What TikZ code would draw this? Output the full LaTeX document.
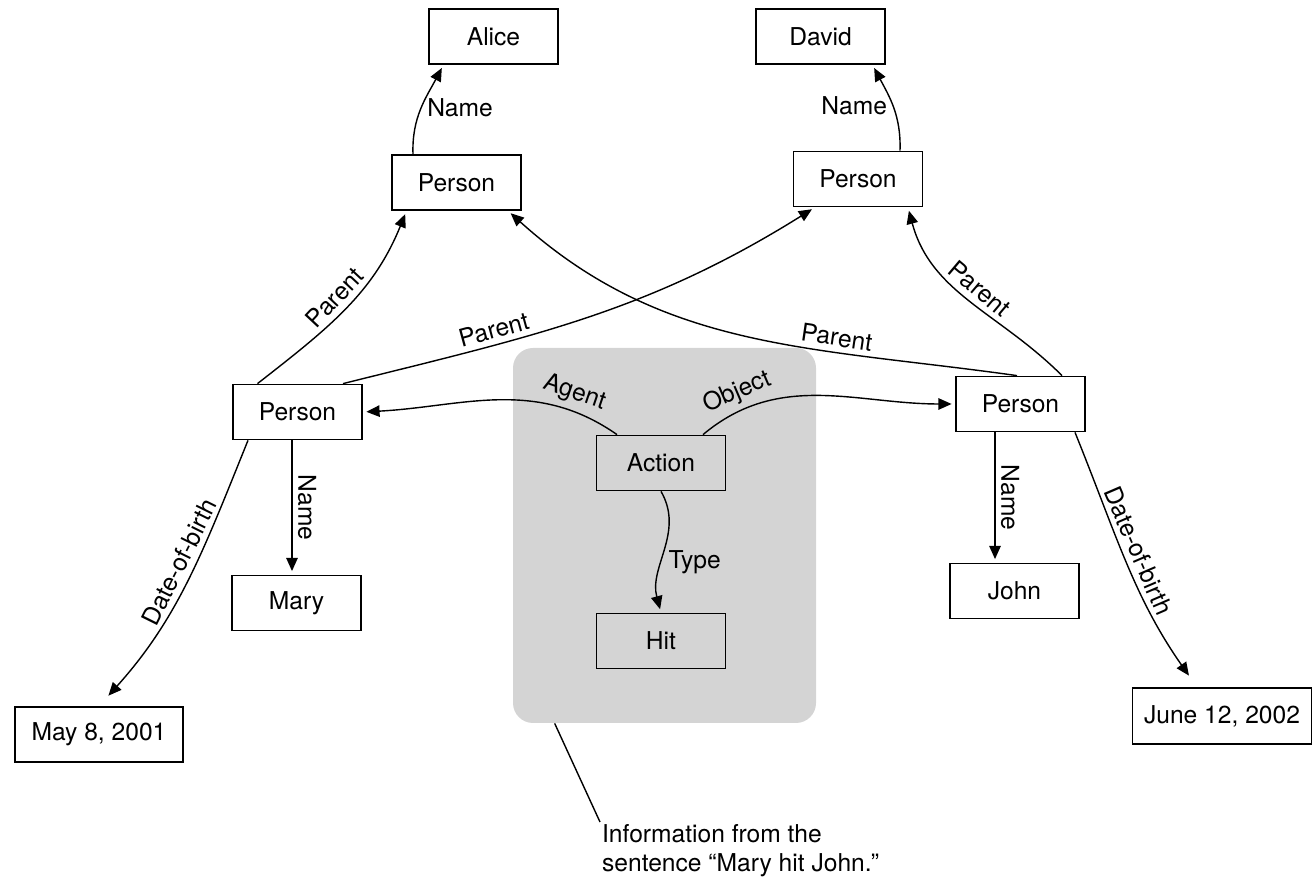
\documentclass[tikz,border=0pt]{standalone}
\usepackage{fontspec}
\setmainfont{TeX Gyre Heros}
\usepackage{tikz}
\usetikzlibrary{arrows.meta,positioning}
\definecolor{RegionGray}{HTML}{D4D4D4}

\begin{document}
\begin{tikzpicture}[
    every node/.style={font=\fontsize{14}{16.5}\selectfont},
    box/.style={draw, line width=1pt, minimum width=2.58cm, minimum height=1.1cm, inner sep=2pt},
    region/.style={fill=RegionGray, rounded corners=0.4cm, minimum width=6.06cm, minimum height=7.5cm},
    arr/.style={-{Triangle[length=7.5pt,width=6.5pt]}, line width=0.8pt, shorten >=2pt},
    lbl/.style={inner sep=3pt}
  ]
    \useasboundingbox (0,0) rectangle (26.26,17.64);

    % sentence region
    \node[region] (info) at (13.29,6.93) {};

    \node[box] (alice) at (9.87,16.91) {Alice};
    \node[box] (david) at (16.41,16.91) {David};
    \node[box] (pa) at (9.13,13.99) {Person};
    \node[box] (pd) at (17.16,14.06) {Person};

    \node[box] (pm) at (5.95,9.40) {Person};
    \node[box] (pj) at (20.41,9.56) {Person};
    \node[box, fill=RegionGray] (action) at (13.22,8.38) {Action};
    \node[box, fill=RegionGray] (hit) at (13.22,4.82) {Hit};

    \node[box] (mary) at (5.93,5.58) {Mary};
    \node[box] (john) at (20.29,5.82) {John};
    \node[box, minimum width=3.36cm] (dobm) at (1.98,2.95) {May 8, 2001};
    \node[box, minimum width=3.58cm, minimum height=1.12cm] (dobj) at (24.44,3.32) {June 12, 2002};

    \node[align=left, anchor=north west, inner sep=1pt] (caption) at (12.0,1.2) {Information from the\\sentence “Mary hit John.”};

    % names of the parents
    \draw[arr] ([xshift=-0.87cm]pa.north) to[out=92,in=-118] node[lbl, right] {Name} ([xshift=-1cm]alice.south);
    \draw[arr] ([xshift=0.84cm]pd.north) to[out=88,in=-62] node[lbl, left] {Name} ([xshift=1.04cm]david.south);

    % parent links
    \draw[arr] ([xshift=-0.8cm]pm.north) to[out=38,in=-112] node[lbl, sloped, above, pos=0.5] {Parent} ([xshift=-1cm]pa.south);
    \draw[arr] ([xshift=0.91cm]pm.north) to[out=14,in=-148] node[lbl, sloped, above, pos=0.3] {Parent} ([xshift=-0.86cm]pd.south);
    \draw[arr] ([xshift=-0.07cm]pj.north) to[out=172,in=-42] node[lbl, sloped, above, pos=0.32] {Parent} ([xshift=1.03cm]pa.south);
    \draw[arr] ([xshift=0.83cm]pj.north) to[out=135,in=-75] node[lbl, sloped, above, pos=0.5] {Parent} ([xshift=1cm]pd.south);

    % the sentence
    \draw[arr] ([xshift=-0.88cm]action.north) to[out=145,in=3] node[lbl, sloped, above, pos=0.2] {Agent} (pm.east);
    \draw[arr] ([xshift=0.84cm]action.north) to[out=40,in=180] node[lbl, sloped, above, pos=0.18] {Object} (pj.west);
    \draw[arr] (action.south) to[out=-60,in=105] node[lbl, right, pos=0.6] {Type} (hit.north);

    % names and dates of birth
    \draw[arr] ([xshift=-0.11cm]pm.south) -- node[lbl, midway, rotate=-90, anchor=south] {Name} ([xshift=-0.11cm]pm.south |- mary.north);
    \draw[arr] ([xshift=-0.51cm]pj.south) -- node[lbl, midway, rotate=-90, anchor=south] {Name} ([xshift=-0.51cm]pj.south |- john.north);
    \draw[arr, shorten >=0.28cm] ([xshift=-0.99cm]pm.south) to[out=-112,in=48] node[lbl, sloped, above, pos=0.45] {Date-of-birth} (dobm.north);
    \draw[arr, shorten >=0.28cm] ([xshift=1.09cm]pj.south) to[out=-68,in=125] node[lbl, sloped, above, pos=0.47] {Date-of-birth} ([xshift=-0.5cm]dobj.north);

    \draw[line width=0.8pt] ([xshift=0.84cm]info.south west) -- (caption.north west);
\end{tikzpicture}
\end{document}
